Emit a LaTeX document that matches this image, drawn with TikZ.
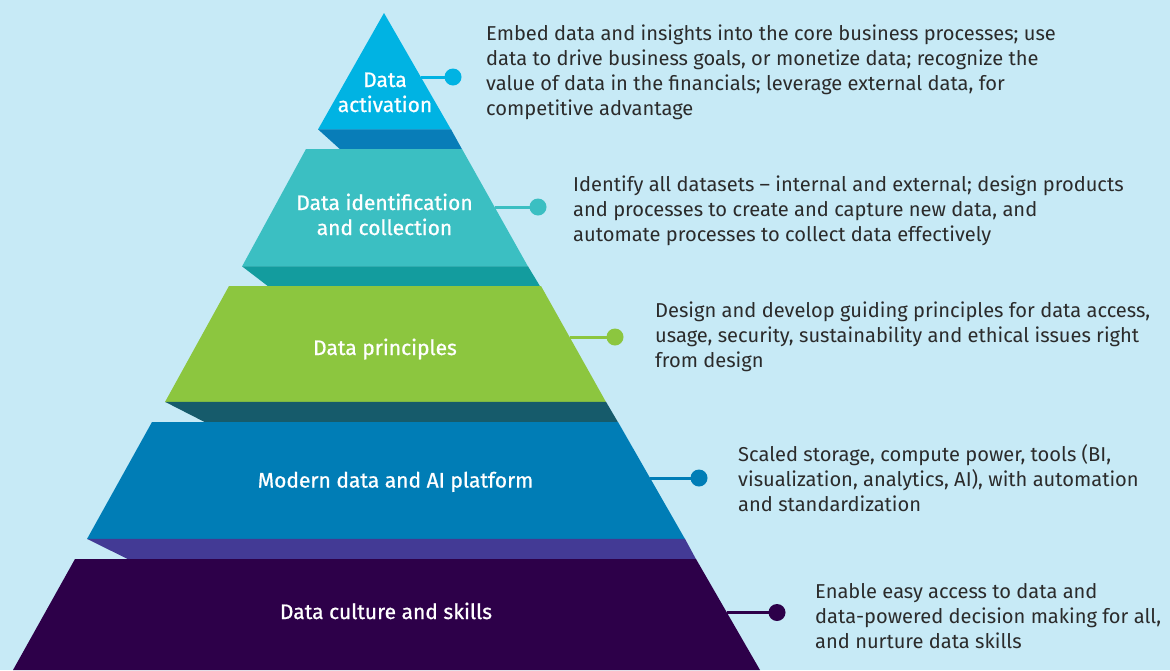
\documentclass[tikz,border=0pt]{standalone}
\usepackage{fontspec}
\setmainfont{Fira Sans}
\newfontfamily\labfont{Fira Sans}[FakeBold=0.8]
\definecolor{bg}{HTML}{C7EAF6}
\definecolor{cA}{HTML}{00B3E3}
\definecolor{bA}{HTML}{087DB8}
\definecolor{cB}{HTML}{3BBFC2}
\definecolor{bB}{HTML}{139C9E}
\definecolor{cC}{HTML}{8CC63F}
\definecolor{bC}{HTML}{165B6B}
\definecolor{cD}{HTML}{007DB6}
\definecolor{bD}{HTML}{433A95}
\definecolor{cE}{HTML}{2D0049}
\definecolor{txt}{HTML}{2B2B2B}
\tikzset{
  desc/.style={anchor=base west, align=left, inner sep=0pt, text=txt,
    font=\fontsize{20.1}{25}\selectfont},
  lab/.style={anchor=base, align=center, inner sep=0pt, text=white,
    font=\labfont\fontsize{21}{25}\selectfont},
  dot/.style={circle, fill=#1, inner sep=0pt, minimum size=17pt},
  conn/.style={draw=#1, line width=3pt}
}
\begin{document}
\begin{tikzpicture}[x=1pt,y=-1pt]
\fill[bg] (0,0) rectangle (1170,670);
\useasboundingbox (0,0) rectangle (1170,670);
% layers
\fill[cA] (384,13) -- (451,129.5) -- (318,129.5) -- cycle;
\fill[bA] (318,129.3) -- (451,129.3) -- (462,149.2) -- (340,149.2) -- cycle;
\fill[cB] (306,149) -- (462,149) -- (528,266.5) -- (242,266.5) -- cycle;
\fill[bB] (242,266.3) -- (528,266.3) -- (540,286.2) -- (268,286.2) -- cycle;
\fill[cC] (229,286) -- (541,286) -- (606,402) -- (165,402) -- cycle;
\fill[bC] (165,401.8) -- (606,401.8) -- (618,422.2) -- (205,422.2) -- cycle;
\fill[cD] (152,422) -- (618,422) -- (685,539) -- (87,539) -- cycle;
\fill[bD] (87,538.8) -- (685,538.8) -- (696,559.2) -- (128,559.2) -- cycle;
\fill[cE] (75,559) -- (696,559) -- (760,670) -- (13,670) -- cycle;
% labels (base anchor = last line's baseline)
\node[lab] (l1) at (385,112) {Data\\activation};
\node[lab] (l2) at (384.5,235) {Data identification\\and collection};
\node[lab] (l3) at (385,355) {Data principles};
\node[lab] (l4) at (395.5,487.5) {Modern data and AI platform};
\node[lab] (l5) at (386,619) {Data culture and skills};
% connectors
\coordinate (e1) at (421,77);
\coordinate (e2) at (494.5,207);
\coordinate (e3) at (569.5,337);
\coordinate (e4) at (650,478);
\coordinate (e5) at (727,612.5);
\node[dot=cA] (d1) at (453,77) {};
\node[dot=cB] (d2) at (538,207) {};
\node[dot=cC] (d3) at (615,337) {};
\node[dot=cD] (d4) at (699,478) {};
\node[dot=cE] (d5) at (777,612.5) {};
\draw[conn=cA] (e1) -- (d1.center);
\draw[conn=cB] (e2) -- (d2.center);
\draw[conn=cC] (e3) -- (d3.center);
\draw[conn=cD] (e4) -- (d4.center);
\draw[conn=cE] (e5) -- (d5.center);
% descriptions (base anchor = last line's baseline)
\node[desc] (t1) at (486,115) {Embed data and insights into the core business processes; use\\data to drive business goals, or monetize data; recognize the\\value of data in the financials; leverage external data, for\\competitive advantage};
\node[desc] (t2) at (573,241) {Identify all datasets -- internal and external; design products\\and processes to create and capture new data, and\\automate processes to collect data effectively};
\node[desc] (t3) at (655,367) {Design and develop guiding principles for data access,\\usage, security, sustainability and ethical issues right\\from design};
\node[desc] (t4) at (738,511) {Scaled storage, compute power, tools (BI,\\visualization, analytics, AI), with automation\\and standardization};
\node[desc] (t5) at (815,648) {Enable easy access to data and\\data-powered decision making for all,\\and nurture data skills};
\end{tikzpicture}
\end{document}
